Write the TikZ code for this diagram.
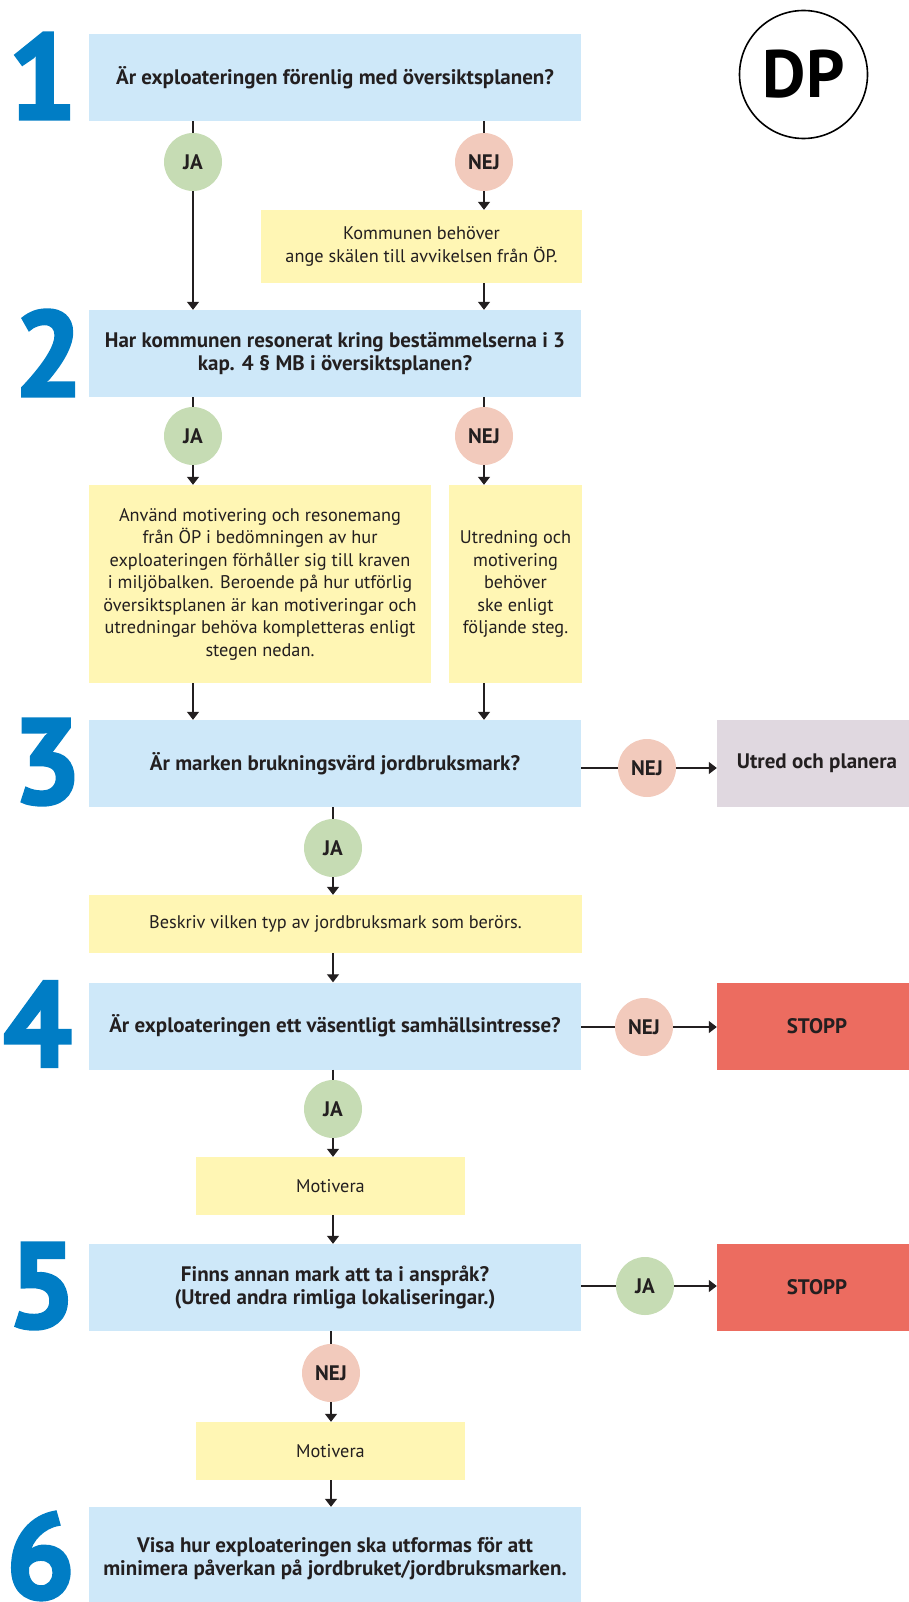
\documentclass[tikz,border=0pt]{standalone}
\usepackage{fontspec}
\setmainfont{PT Sans}
\newfontfamily\dpfont{PT Sans}
\newfontfamily\numfont{PT Sans}[FakeBold=2.5]
\usepackage{tikz}
\usetikzlibrary{arrows.meta}

\definecolor{qblue}{RGB}{206,232,249}
\definecolor{noteyellow}{RGB}{255,246,180}
\definecolor{jagreen}{RGB}{198,220,180}
\definecolor{nejpink}{RGB}{242,202,188}
\definecolor{utredlila}{RGB}{224,216,224}
\definecolor{stoppred}{RGB}{236,108,96}
\definecolor{numblue}{RGB}{0,125,197}
\definecolor{ink}{RGB}{35,31,32}

\begin{document}
\begin{tikzpicture}[x=1pt, y=-1pt,
    qbox/.style={fill=qblue, minimum width=492pt, minimum height=87pt, inner sep=0pt,
        align=center, text=ink, font=\bfseries\fontsize{21}{23}\selectfont},
    note/.style={fill=noteyellow, inner sep=0pt, align=center, text=ink,
        font=\fontsize{18.3}{22.5}\selectfont},
    svar/.style={circle, minimum size=58pt, inner sep=0pt, text=ink,
        font=\bfseries\fontsize{21}{21}\selectfont},
    ja/.style={svar, fill=jagreen},
    nej/.style={svar, fill=nejpink},
    utfall/.style={minimum width=200pt, minimum height=87pt, inner sep=0pt, text=ink,
        font=\bfseries\fontsize{21}{21}\selectfont},
    num/.style={inner sep=0pt, text=numblue, font=\numfont\bfseries\fontsize{121}{121}\selectfont},
    link/.style={line width=1.3pt, ink},
    arr/.style={link, -{Triangle[length=8pt, width=12pt]}}]

    \useasboundingbox (0,0) rectangle (908,1602);

    % frågorna
    \node[qbox] (q1) at (335,77.5) {Är exploateringen förenlig med översiktsplanen?};
    \node[qbox] (q2) at (335,353.5) {Har kommunen resonerat kring bestämmelserna i 3\\kap. 4 § MB i översiktsplanen?};
    \node[qbox] (q3) at (335,763.5) {Är marken brukningsvärd jordbruksmark?};
    \node[qbox] (q4) at (335,1026) {Är exploateringen ett väsentligt samhällsintresse?};
    \node[qbox] (q5) at (335,1287.5) {Finns annan mark att ta i anspråk?\\(Utred andra rimliga lokaliseringar.)};
    \node[qbox, minimum height=104pt] (q6) at (335,1559) {Visa hur exploateringen ska utformas för att\\minimera påverkan på jordbruket/jordbruksmarken.};

    % stegnummer
    \node[num] (s1) at (42.5,76) {1};
    \node[num] (s2) at (48.5,353) {2};
    \node[num] (s3) at (47,762) {3};
    \node[num] (s4) at (37.5,1024) {4};
    \node[num] (s5) at (42,1286) {5};
    \node[num] (s6) at (40.5,1556) {6};

    \node[draw, circle, line width=1.6pt, minimum size=128pt, inner sep=0pt,
        font=\dpfont\bfseries\fontsize{67}{67}\selectfont] (dp) at (803.5,74.5) {DP};

    % svar
    \node[ja] (ja1) at (193,162) {JA};
    \node[nej] (nej1) at (484,162) {NEJ};
    \node[ja] (ja2) at (193,436) {JA};
    \node[nej] (nej2) at (484,436) {NEJ};
    \node[nej] (nej3) at (647,768) {NEJ};
    \node[ja] (ja3) at (333,848) {JA};
    \node[nej] (nej4) at (644,1027) {NEJ};
    \node[ja] (ja4) at (333,1109) {JA};
    \node[ja] (ja5) at (645,1286) {JA};
    \node[nej] (nej5) at (331,1373) {NEJ};

    % anteckningar
    \node[note, minimum width=321pt, minimum height=73pt] (n1) at (421.5,246.5)
        {Kommunen behöver\\ange skälen till avvikelsen från ÖP.};
    \node[note, minimum width=342pt, minimum height=198pt] (n2a) at (260,584)
        {Använd motivering och resonemang\\från ÖP i bedömningen av hur\\exploateringen förhåller sig till kraven\\i miljöbalken. Beroende på hur utförlig\\översiktsplanen är kan motiveringar och\\utredningar behöva kompletteras enligt\\stegen nedan.};
    \node[note, minimum width=133pt, minimum height=198pt] (n2b) at (515.5,584)
        {Utredning och\\motivering\\behöver\\ske enligt\\följande steg.};
    \node[note, minimum width=493pt, minimum height=58pt] (n3) at (335.5,924)
        {Beskriv vilken typ av jordbruksmark som berörs.};
    \node[note, minimum width=269pt, minimum height=58pt] (n4) at (330.5,1186) {Motivera};
    \node[note, minimum width=269pt, minimum height=58pt] (n5) at (330.5,1451) {Motivera};

    % utfall till höger
    \node[utfall, fill=utredlila] (u3) at (817,763.5) {Utred och planera};
    \node[utfall, fill=stoppred] (st4) at (817,1026) {STOPP};
    \node[utfall, fill=stoppred] (st5) at (817,1287.5) {STOPP};

    % pilar nedåt
    \foreach \frage/\svar/\till in {q1/ja1/q2, q1/nej1/n1, q2/ja2/n2a, q2/nej2/n2b,
            q3/ja3/n3, q4/ja4/n4, q5/nej5/n5} {
        \draw[link] (\svar |- \frage.south) -- (\svar);
        \draw[arr] (\svar) -- (\svar |- \till.north);
    }
    \foreach \fran/\till/\via in {n1/q2/nej1, n2a/q3/ja2, n2b/q3/nej2,
            n3/q4/ja3, n4/q5/ja4, n5/q6/nej5}
        \draw[arr] (\via |- \fran.south) -- (\via |- \till.north);

    % pilar åt höger
    \foreach \frage/\svar/\till in {q3/nej3/u3, q4/nej4/st4, q5/ja5/st5} {
        \draw[link] (\frage.east |- \svar) -- (\svar);
        \draw[arr] (\svar) -- (\till.west |- \svar);
    }
\end{tikzpicture}
\end{document}
